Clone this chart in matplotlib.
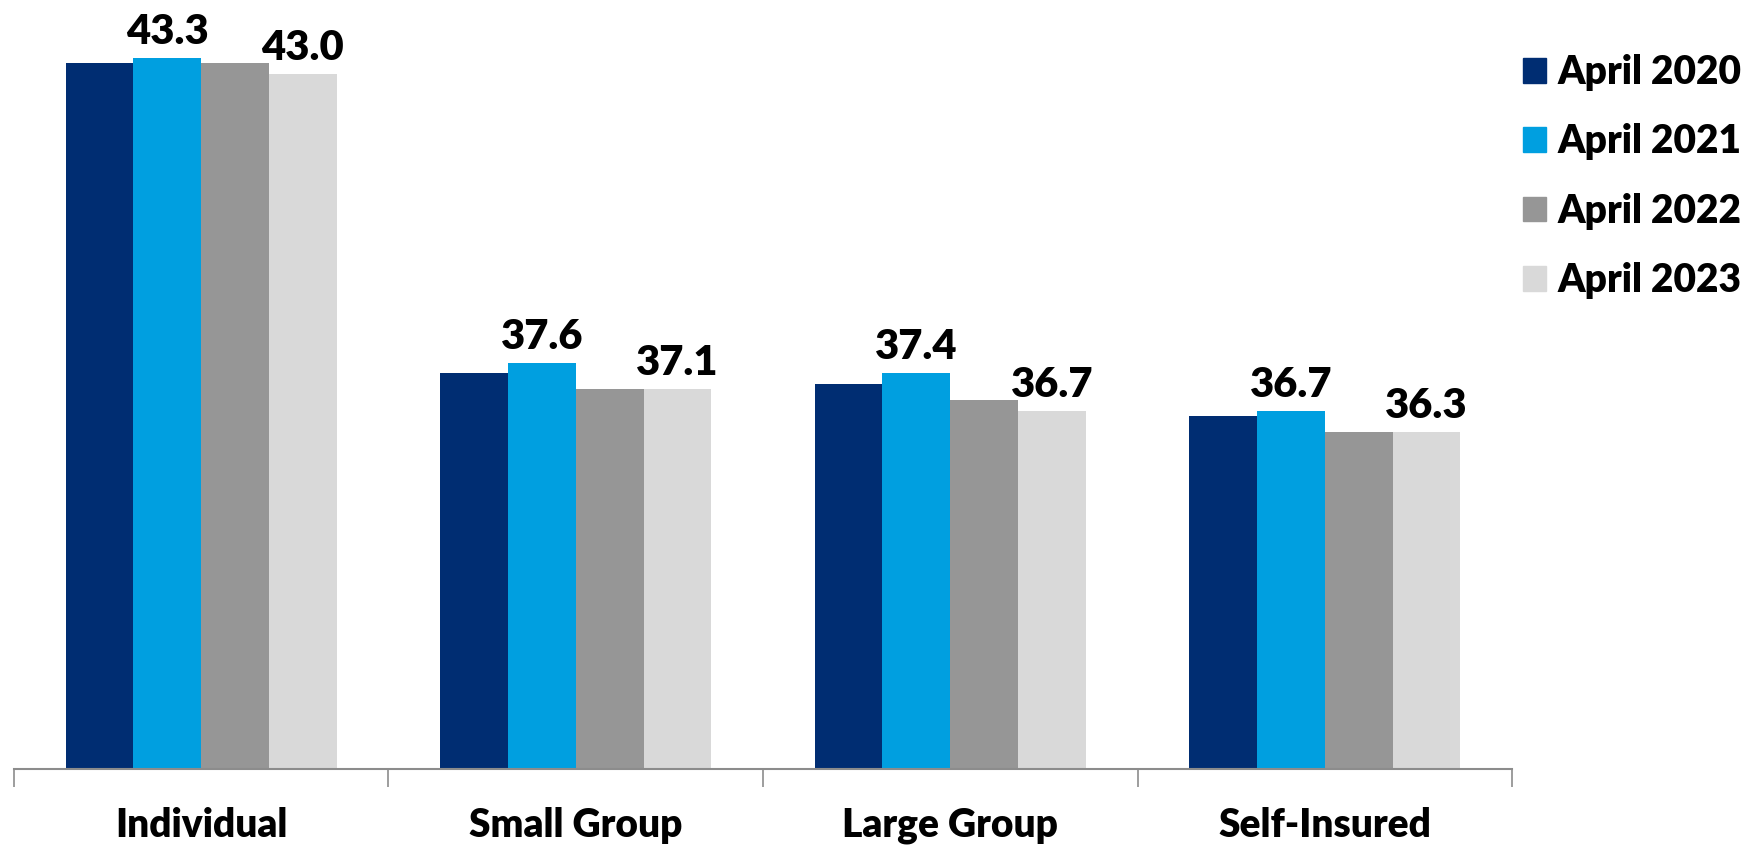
import numpy as np
import matplotlib
matplotlib.use("Agg")
import matplotlib.pyplot as plt
from matplotlib.patches import Patch

plt.rcParams['font.family'] = ['Lato', 'DejaVu Sans']
plt.rcParams['font.weight'] = 'bold'

# data
categories = ['Individual', 'Small Group', 'Large Group', 'Self-Insured']
series = ['April 2020', 'April 2021', 'April 2022', 'April 2023']
apr2020 = [43.2, 37.4, 37.2, 36.6]
apr2021 = [43.3, 37.6, 37.4, 36.7]
apr2022 = [43.2, 37.1, 36.9, 36.3]
apr2023 = [43.0, 37.1, 36.7, 36.3]
labelled = [False, True, False, True]   # only 2021 and 2023 carry value labels

colors = ['#002D72', '#009FE0', '#969696', '#D9D9D9']
fs = 28

fig = plt.figure(figsize=(17.48, 8.46), dpi=100)
ax = fig.add_axes([0.008, 0.091, 0.857, 0.885])

x = np.arange(len(categories))
w = 0.181
allvals = [apr2020, apr2021, apr2022, apr2023]
for i, vals in enumerate(allvals):
    pos = x + (i - 1.5) * w
    bars = ax.bar(pos, vals, w, color=colors[i], label=series[i], zorder=2)
    if labelled[i]:
        for b, v in zip(bars, vals):
            ax.annotate(f'{v:.1f}', (b.get_x() + b.get_width() / 2, v),
                        xytext=(0, 5), textcoords='offset points',
                        ha='center', va='bottom', fontsize=30, fontweight='heavy')

ax.set_ylim(30, 44)
ax.set_xlim(-0.5, len(categories) - 0.5)
ax.set_yticks([])
for s in ['top', 'right', 'left']:
    ax.spines[s].set_visible(False)
ax.spines['bottom'].set_color('#8C8C8C')
ax.spines['bottom'].set_linewidth(1.5)

ax.set_xticks(x)
ax.set_xticklabels(categories, fontsize=fs, fontweight='heavy')
ax.tick_params(axis='x', which='major', length=0, pad=27)
ax.set_xticks(np.arange(-0.5, len(categories), 1.0), minor=True)
ax.tick_params(axis='x', which='minor', length=13, width=1.2, color='#8C8C8C')

handles = [Patch(color=c) for c in colors]
fig.legend(handles, series, loc='upper left', bbox_to_anchor=(0.871, 0.936),
           frameon=False, prop={'size': fs, 'weight': 'heavy'},
           handlelength=0.6, handleheight=0.6, handletextpad=0.3,
           labelspacing=0.83, borderpad=0, borderaxespad=0)

fig.savefig('out.png', dpi=100)
